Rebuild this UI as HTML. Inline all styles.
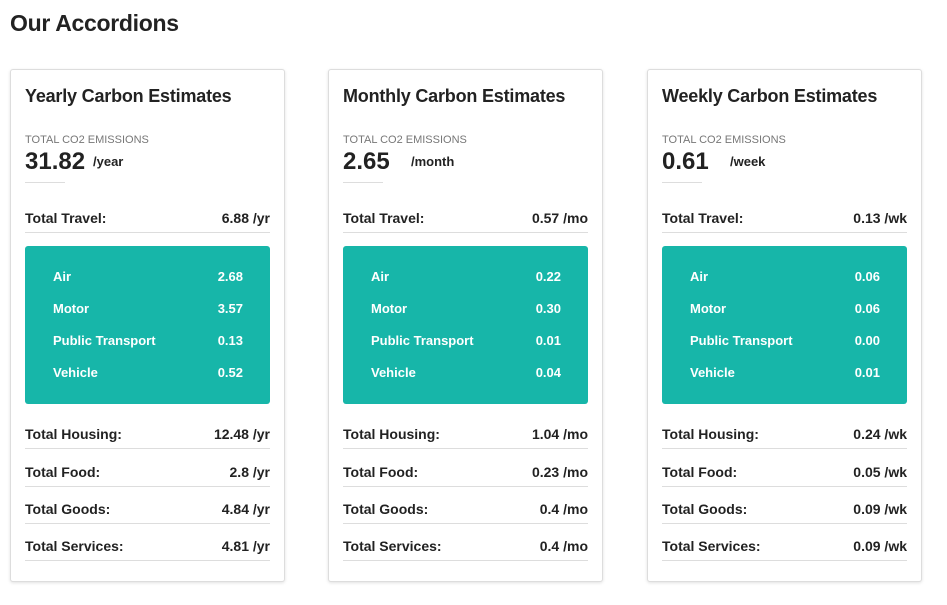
<!DOCTYPE html>
<html><head><meta charset="utf-8">
<style>
*{box-sizing:border-box;margin:0;padding:0}
body{width:947px;height:605px;background:#fff;font-family:"Liberation Sans",sans-serif;color:#222;position:relative;overflow:hidden}
h1{position:absolute;left:10px;top:10px;font-size:23px;font-weight:bold;letter-spacing:-0.3px;color:#222}
.card{position:absolute;top:69px;width:275px;height:513px;border:1px solid #ddd;border-radius:3px;box-shadow:0 1px 3px rgba(0,0,0,.12);background:#fff}
.card>*{position:absolute}
.title{left:14px;top:16px;font-size:18px;font-weight:bold;letter-spacing:-0.2px}
.lbl{left:14px;top:64px;font-size:11px;color:#777}
.big{left:14px;top:78px;font-size:24px;font-weight:bold}
.unit{top:84px;font-size:13px;font-weight:bold}
.short{left:14px;top:112px;width:40px;border-top:1px solid #ddd}
.row{left:14px;width:245px;height:14px;font-size:14px;font-weight:bold;border-bottom:1px solid #ddd;display:flex;justify-content:space-between;box-sizing:content-box;padding-bottom:6px}
.row span{line-height:14px;margin-top:-1px}
.teal{left:14px;top:176px;width:245px;height:158px;background:#17b6a9;border-radius:3px}
.sub{position:absolute;left:28px;width:190px;display:flex;justify-content:space-between;color:#fff;font-size:13px;font-weight:bold}
</style></head><body>
<h1>Our Accordions</h1>
<div id="wrap"></div>
<script>
const cards=[
 {x:10,title:"Yearly Carbon Estimates",total:"31.82",unit:"/year",ux:82,s:"/yr",travel:"6.88",sub:["2.68","3.57","0.13","0.52"],rest:["12.48","2.8","4.84","4.81"]},
 {x:328,title:"Monthly Carbon Estimates",total:"2.65",unit:"/month",ux:82,s:"/mo",travel:"0.57",sub:["0.22","0.30","0.01","0.04"],rest:["1.04","0.23","0.4","0.4"]},
 {x:647,title:"Weekly Carbon Estimates",total:"0.61",unit:"/week",ux:82,s:"/wk",travel:"0.13",sub:["0.06","0.06","0.00","0.01"],rest:["0.24","0.05","0.09","0.09"]}
];
const subNames=["Air","Motor","Public Transport","Vehicle"];
const restNames=["Total Housing:","Total Food:","Total Goods:","Total Services:"];
const restTops=[358,396,433,470];
const wrap=document.getElementById('wrap');
cards.forEach((c,i)=>{
 const d=document.createElement('div');
 d.className='card';
 
 
 d.style.left=c.x+'px';
 let h=`<div class="title">${c.title}</div>
 <div class="lbl">TOTAL CO2 EMISSIONS</div>
 <div class="big">${c.total}</div>
 <div class="unit" style="left:${c.ux}px">${c.unit}</div>
 <div class="short"></div>
 <div class="row" style="top:142px"><span>Total Travel:</span><span>${c.travel} ${c.s}</span></div>
 <div class="teal">`;
 subNames.forEach((n,j)=>{h+=`<div class="sub" style="top:${23+j*32}px"><span>${n}</span><span>${c.sub[j]}</span></div>`});
 h+='</div>';
 restNames.forEach((n,j)=>{h+=`<div class="row" style="top:${restTops[j]}px"><span>${n}</span><span>${c.rest[j]} ${c.s}</span></div>`});
 d.innerHTML=h;
 wrap.appendChild(d);
});
</script>
</body></html>
